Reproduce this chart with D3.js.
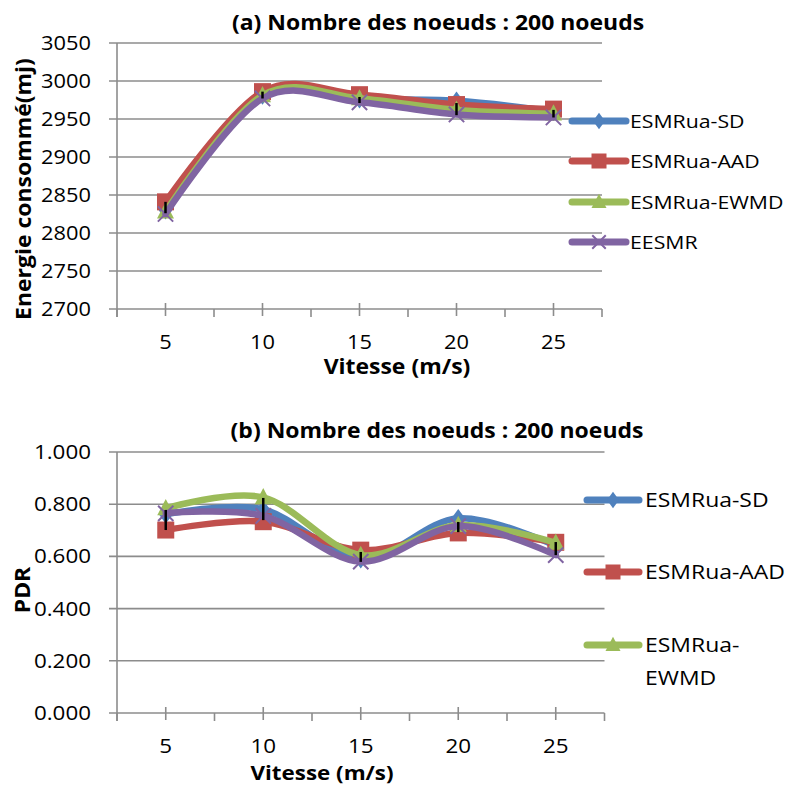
<!DOCTYPE html>
<html>
<head>
<meta charset="utf-8">
<script src="https://cdn.jsdelivr.net/npm/d3@7/dist/d3.min.js"></script>
<style>
  html, body { margin: 0; padding: 0; background: #fff; }
  svg { display: block; }
</style>
</head>
<body>
<svg id="chart" width="788" height="787"></svg>
<script>
// Speeds on the x axis (m/s)
const speeds = ["5", "10", "15", "20", "25"];
const seriesNames = ["ESMRua-SD", "ESMRua-AAD", "ESMRua-EWMD", "EESMR"];

// (a) Energy consumed (mJ), 200 nodes
const energySD    = [2830, 2981, 2976, 2974, 2960];
const energyAAD   = [2841, 2986, 2982, 2969, 2963];
const energyEWMD  = [2828, 2981, 2977, 2962, 2957];
const energyEESMR = [2825, 2977, 2972, 2956, 2952];
const energyErrLow  = [2826, 2977, 2971, 2955, 2952];
const energyErrHigh = [2841, 2986, 2979, 2971, 2962];
const energyTicks = [2700, 2750, 2800, 2850, 2900, 2950, 3000, 3050];

// (b) Packet delivery ratio, 200 nodes
const pdrSD    = [0.761, 0.780, 0.589, 0.746, 0.640];
const pdrAAD   = [0.701, 0.733, 0.624, 0.690, 0.654];
const pdrEWMD  = [0.784, 0.826, 0.605, 0.720, 0.652];
const pdrEESMR = [0.765, 0.755, 0.580, 0.716, 0.605];
const pdrErrLow  = [0.701, 0.739, 0.579, 0.693, 0.605];
const pdrErrHigh = [0.778, 0.824, 0.617, 0.732, 0.655];
const pdrTicks = [0, 0.2, 0.4, 0.6, 0.8, 1.0];

const colors = ["#4F81BD", "#C0504D", "#9BBB59", "#8064A2"];
const markers = ["diamond", "square", "triangle", "cross"];
const FONT = "'Open Sans', 'Noto Sans', sans-serif";
const SX = 1.12;          // horizontal stretch applied to all text
const GRID = "#8c8c8c";

const svg = d3.select("#chart");

function label(g, str, x, y, o = {}) {
  const rot = o.rotate ? ` rotate(${o.rotate})` : "";
  return g.append("text")
    .attr("transform", `translate(${x},${y})${rot} scale(${SX},1)`)
    .attr("text-anchor", o.anchor || "middle")
    .attr("font-family", FONT)
    .attr("font-size", o.size || 19.5)
    .attr("font-weight", o.weight || "normal")
    .attr("fill", "#000")
    .text(str);
}

function marker(g, type, cx, cy, color, s) {
  if (type === "diamond") {
    g.append("path")
      .attr("d", `M${cx},${cy - s * 0.55}L${cx + s * 0.4},${cy}L${cx},${cy + s * 0.55}L${cx - s * 0.4},${cy}Z`)
      .attr("fill", color);
  } else if (type === "square") {
    g.append("rect").attr("x", cx - s / 2).attr("y", cy - s / 2)
      .attr("width", s).attr("height", s).attr("fill", color);
  } else if (type === "triangle") {
    g.append("path")
      .attr("d", `M${cx},${cy - s * 0.55}L${cx + s * 0.5},${cy + s * 0.4}L${cx - s * 0.5},${cy + s * 0.4}Z`)
      .attr("fill", color);
  } else {
    const h = s * 0.45;
    g.append("path")
      .attr("d", `M${cx - h},${cy - h}L${cx + h},${cy + h}M${cx - h},${cy + h}L${cx + h},${cy - h}`)
      .attr("stroke", color).attr("stroke-width", 2).attr("fill", "none");
  }
}

function panel(cfg) {
  const g = svg.append("g");
  const x = d3.scaleBand().domain(speeds).range([cfg.left, cfg.right]);
  const cx = d => x(d) + x.bandwidth() / 2;
  const y = d3.scaleLinear().domain(cfg.domain).range([cfg.bottom, cfg.top]);

  // horizontal gridlines + y tick marks
  g.selectAll(".grid").data(cfg.ticks).enter().append("line")
    .attr("x1", cfg.left - 8).attr("x2", cfg.right)
    .attr("y1", d => y(d)).attr("y2", d => y(d))
    .attr("stroke", GRID).attr("stroke-width", 1.6);

  // y axis line
  g.append("line")
    .attr("x1", cfg.left).attr("x2", cfg.left)
    .attr("y1", y(cfg.domain[1])).attr("y2", cfg.bottom + 8)
    .attr("stroke", GRID).attr("stroke-width", 1.6);

  // x axis ticks: band boundaries (outside) and band centers (cross)
  const bounds = speeds.map(s => x(s)).concat([cfg.right]);
  g.selectAll(".btick").data(bounds).enter().append("line")
    .attr("x1", d => d).attr("x2", d => d)
    .attr("y1", cfg.bottom).attr("y2", cfg.bottom + 8)
    .attr("stroke", GRID).attr("stroke-width", 1.6);
  g.selectAll(".ctick").data(speeds).enter().append("line")
    .attr("x1", d => cx(d)).attr("x2", d => cx(d))
    .attr("y1", cfg.bottom - 6).attr("y2", cfg.bottom + 7)
    .attr("stroke", GRID).attr("stroke-width", 1.6);

  // tick labels
  cfg.ticks.forEach(t => {
    label(g, cfg.fmt(t), 91, y(t) + 7, { anchor: "end", size: cfg.tickSize });
  });
  speeds.forEach(s => label(g, s, cx(s), cfg.xLabelY, { size: cfg.tickSize }));

  // titles
  label(g, cfg.title, cfg.titleX, cfg.titleY, { size: 20.5, weight: "bold" });
  label(g, "Vitesse (m/s)", cfg.xTitleX, cfg.xTitleY, { size: cfg.xTitleSize, weight: "bold" });
  label(g, cfg.yTitle, cfg.yTitleX, cfg.yTitleY, { size: 20.5, weight: "bold", rotate: -90 });

  // smoothed series lines
  const line = d3.line()
    .x((d, i) => cx(speeds[i]))
    .y(d => y(d))
    .curve(d3.curveCardinal.tension(0));
  cfg.series.forEach((vals, k) => {
    g.append("path").attr("d", line(vals))
      .attr("fill", "none").attr("stroke", colors[k])
      .attr("stroke-width", 6.5).attr("stroke-linejoin", "round")
      .attr("stroke-linecap", "round");
    vals.forEach((v, i) => marker(g, markers[k], cx(speeds[i]), y(v), colors[k], cfg.markerSize));
  });

  // error bars
  speeds.forEach((s, i) => {
    g.append("line")
      .attr("x1", cx(s)).attr("x2", cx(s))
      .attr("y1", y(cfg.errLow[i])).attr("y2", y(cfg.errHigh[i]))
      .attr("stroke", "#000").attr("stroke-width", 2.5);
  });

  // legend
  if (cfg.legendBg) {
    g.append("rect").attr("x", cfg.legendBg[0]).attr("y", cfg.legendBg[1])
      .attr("width", cfg.legendBg[2]).attr("height", cfg.legendBg[3]).attr("fill", "#fff");
  }
  cfg.legend.forEach((item, k) => {
    const ly = item.y;
    g.append("line")
      .attr("x1", cfg.legendX1).attr("x2", cfg.legendX2)
      .attr("y1", ly).attr("y2", ly)
      .attr("stroke", colors[k]).attr("stroke-width", 7).attr("stroke-linecap", "round");
    marker(g, markers[k], (cfg.legendX1 + cfg.legendX2) / 2, ly, colors[k], 15);
    item.lines.forEach((t, j) => {
      label(g, t, cfg.legendTextX, ly + 7 + j * cfg.legendLineH, { anchor: "start", size: cfg.legendSize });
    });
  });
}

panel({
  left: 117, right: 602, top: 43, bottom: 309,
  domain: [2700, 3050], ticks: energyTicks, fmt: d3.format("d"),
  tickSize: 19.5, xLabelY: 349,
  title: "(a) Nombre des noeuds : 200 noeuds", titleX: 438, titleY: 30,
  xTitleX: 397, xTitleY: 374, xTitleSize: 20.5,
  yTitle: "Energie consommé(mj)", yTitleX: 31, yTitleY: 189,
  series: [energySD, energyAAD, energyEWMD, energyEESMR],
  errLow: energyErrLow, errHigh: energyErrHigh, markerSize: 17,
  legendBg: [571, 138, 34, 45],
  legendX1: 572, legendX2: 626, legendTextX: 630, legendSize: 19, legendLineH: 33,
  legend: [
    { y: 121, lines: [seriesNames[0]] },
    { y: 161, lines: [seriesNames[1]] },
    { y: 202, lines: [seriesNames[2]] },
    { y: 242, lines: [seriesNames[3]] }
  ]
});

panel({
  left: 117, right: 604.5, top: 452, bottom: 713,
  domain: [0, 1], ticks: pdrTicks, fmt: d3.format(".3f"),
  tickSize: 20, xLabelY: 753,
  title: "(b) Nombre des noeuds : 200 noeuds", titleX: 437, titleY: 438,
  xTitleX: 322, xTitleY: 780, xTitleSize: 20,
  yTitle: "PDR", yTitleX: 30, yTitleY: 590,
  series: [pdrSD, pdrAAD, pdrEWMD, pdrEESMR],
  errLow: pdrErrLow, errHigh: pdrErrHigh, markerSize: 17,
  legendX1: 587, legendX2: 639, legendTextX: 645, legendSize: 20.5, legendLineH: 33,
  legend: [
    { y: 500, lines: [seriesNames[0]] },
    { y: 572, lines: [seriesNames[1]] },
    { y: 645, lines: ["ESMRua-", "EWMD"] }
  ]
});
</script>
</body>
</html>
